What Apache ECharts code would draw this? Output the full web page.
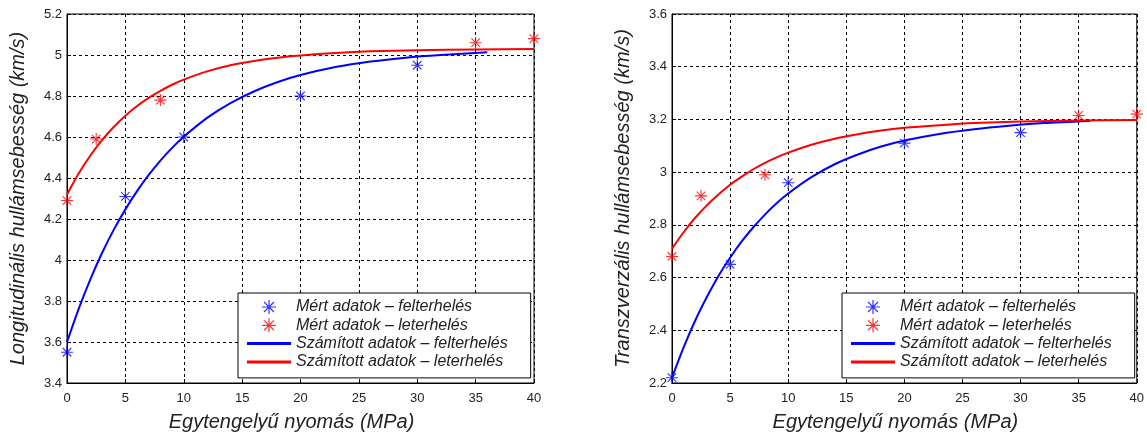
<!DOCTYPE html>
<html>
<head>
<meta charset="utf-8">
<script src="https://cdn.jsdelivr.net/npm/echarts@6/dist/echarts.min.js"></script>
<style>
html,body{margin:0;padding:0;background:#fff;}
#c{width:1147px;height:439px;}
</style>
</head>
<body>
<div id="c"></div>
<script>
// ---- Data ----
const xTicks = [0, 5, 10, 15, 20, 25, 30, 35, 40];

// Left plot: longitudinal wave velocity (km/s)
const leftMeasuredUp = [[0, 3.55], [5, 4.31], [10, 4.60], [20, 4.80], [30, 4.95]];
const leftMeasuredDown = [[0, 4.29], [2.5, 4.59], [8, 4.78], [35, 5.06], [40, 5.08]];
const leftCalcUp = [[0, 3.600], [1, 3.762], [2, 3.906], [3, 4.034], [4, 4.147], [5, 4.247], [6, 4.336], [7, 4.415], [8, 4.485], [9, 4.547], [10, 4.601], [12, 4.693], [14, 4.765], [16, 4.822], [18, 4.867], [20, 4.902], [23, 4.941], [26, 4.968], [29, 4.987], [32, 5.000], [36, 5.013]];
const leftCalcDown = [[0, 4.320], [1, 4.422], [2, 4.510], [3, 4.585], [4, 4.649], [5, 4.704], [6, 4.751], [7, 4.791], [8, 4.825], [9, 4.855], [10, 4.880], [12, 4.920], [14, 4.950], [16, 4.971], [18, 4.987], [20, 4.998], [23, 5.010], [26, 5.018], [30, 5.023], [35, 5.027], [40, 5.029]];

// Right plot: transverse wave velocity (km/s)
const rightMeasuredUp = [[0, 2.22], [5, 2.65], [10, 2.96], [20, 3.11], [30, 3.15]];
const rightMeasuredDown = [[0, 2.68], [2.5, 2.91], [8, 2.99], [35, 3.215], [40, 3.22]];
const rightCalcUp = [[0, 2.220], [1, 2.335], [2, 2.437], [3, 2.526], [4, 2.606], [5, 2.675], [6, 2.737], [7, 2.791], [8, 2.839], [9, 2.882], [10, 2.919], [12, 2.981], [14, 3.030], [16, 3.067], [18, 3.097], [20, 3.120], [23, 3.145], [26, 3.163], [29, 3.176], [32, 3.186], [36, 3.194]];
const rightCalcDown = [[0, 2.710], [1, 2.772], [2, 2.827], [3, 2.874], [4, 2.915], [5, 2.952], [6, 2.983], [7, 3.011], [8, 3.035], [9, 3.056], [10, 3.074], [12, 3.104], [14, 3.127], [16, 3.144], [18, 3.158], [20, 3.168], [23, 3.178], [26, 3.186], [30, 3.192], [35, 3.196], [40, 3.198]];

const names = ['Mért adatok – felterhelés', 'Mért adatok – leterhelés', 'Számított adatok – felterhelés', 'Számított adatok – leterhelés'];
const xTitle = 'Egytengelyű nyomás (MPa)';
const yTitleLeft = 'Longitudinális hullámsebesség (km/s)';
const yTitleRight = 'Transzverzális hullámsebesség (km/s)';

// ---- Styling ----
const FONT = '"Liberation Sans", Arial, sans-serif';
const STAR = 'path://M0,5L10,5M5,0L5,10M1.46,1.46L8.54,8.54M8.54,1.46L1.46,8.54';
const BAR = 'path://M0,0L44,0L44,3L0,3Z';
const BLUE = '#0000ff', RED = '#ff0000';

function xAxis(gridIndex) {
  return {
    type: 'value', gridIndex, min: 0, max: 40, interval: 5,
    name: xTitle, nameLocation: 'middle', nameGap: 29,
    nameTextStyle: { fontFamily: FONT, fontSize: 20, fontStyle: 'italic', color: '#222', padding: [0, 18, 0, 0] },
    axisLine: { show: true, onZero: false, lineStyle: { color: '#000', width: 1 } },
    axisTick: { show: true, inside: true, length: 4, lineStyle: { color: '#000' } },
    axisLabel: { fontFamily: FONT, fontSize: 13, color: '#222', margin: 9,
      formatter: v => xTicks.includes(v) ? String(v) : '' },
    splitLine: { show: true, lineStyle: { color: '#000', type: [3, 3], width: 1 } }
  };
}
function yAxis(gridIndex, min, max, title) {
  return {
    type: 'value', gridIndex, min, max, interval: 0.2,
    name: title, nameLocation: 'middle', nameGap: 39,
    nameTextStyle: { fontFamily: FONT, fontSize: 20, fontStyle: 'italic', color: '#222' },
    axisLine: { show: true, onZero: false, lineStyle: { color: '#000', width: 1 } },
    axisTick: { show: true, inside: true, length: 4, lineStyle: { color: '#000' } },
    axisLabel: { fontFamily: FONT, fontSize: 13, color: '#222', margin: 5,
      formatter: v => String(Math.round(v * 10) / 10) },
    splitLine: { show: true, lineStyle: { color: '#000', type: [3, 3], width: 1 } }
  };
}
function legend(left) {
  return {
    left, top: 293, orient: 'vertical',
    backgroundColor: '#fff', borderColor: '#000', borderWidth: 1,
    padding: [6, 23, 8, 9],
    itemWidth: 44, itemHeight: 14, itemGap: 2.3, itemTextGap: 12,
    selectedMode: false,
    textStyle: { fontFamily: FONT, fontSize: 16, fontStyle: 'italic', color: '#222', lineHeight: 16 },
    data: [
      { name: names[0], icon: STAR, itemStyle: { color: 'transparent', borderColor: BLUE, borderWidth: 1.2 } },
      { name: names[1], icon: STAR, itemStyle: { color: 'transparent', borderColor: RED, borderWidth: 1.2 } },
      { name: names[2], icon: BAR, itemStyle: { color: BLUE, borderWidth: 0 } },
      { name: names[3], icon: BAR, itemStyle: { color: RED, borderWidth: 0 } }
    ]
  };
}
function scatter(name, data, color, idx) {
  return {
    type: 'scatter', name, data, xAxisIndex: idx, yAxisIndex: idx,
    symbol: STAR, symbolSize: 12, z: 3,
    itemStyle: { color: 'transparent', borderColor: color, borderWidth: 1.1 }
  };
}
function line(name, data, color, idx) {
  return {
    type: 'line', name, data, xAxisIndex: idx, yAxisIndex: idx,
    symbol: 'none', showSymbol: false, smooth: 0.25, z: 2,
    lineStyle: { color, width: 2 }, itemStyle: { color }
  };
}

const chart = echarts.init(document.getElementById('c'), null, { renderer: 'canvas' });
chart.setOption({
  animation: false,
  backgroundColor: '#fff',
  grid: [
    { left: 67, right: 613, top: 14, bottom: 56, show: true, borderColor: '#000', borderWidth: 1, backgroundColor: 'transparent' },
    { left: 672, right: 10, top: 14, bottom: 56, show: true, borderColor: '#000', borderWidth: 1, backgroundColor: 'transparent' }
  ],
  xAxis: [xAxis(0), xAxis(1)],
  yAxis: [yAxis(0, 3.4, 5.2, yTitleLeft), yAxis(1, 2.2, 3.6, yTitleRight)],
  legend: [legend(238), legend(842)],
  series: [
    scatter(names[0], leftMeasuredUp, BLUE, 0),
    scatter(names[1], leftMeasuredDown, RED, 0),
    line(names[2], leftCalcUp, BLUE, 0),
    line(names[3], leftCalcDown, RED, 0),
    scatter(names[0], rightMeasuredUp, BLUE, 1),
    scatter(names[1], rightMeasuredDown, RED, 1),
    line(names[2], rightCalcUp, BLUE, 1),
    line(names[3], rightCalcDown, RED, 1)
  ]
});
</script>
</body>
</html>
